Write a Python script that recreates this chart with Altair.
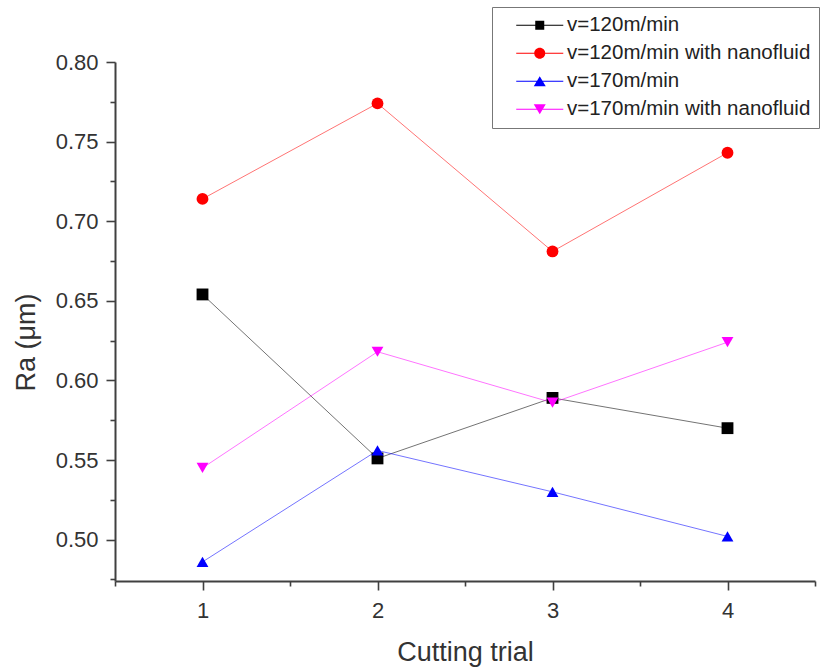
import altair as alt
import pandas as pd

# ---- data ----
trials = [1, 2, 3, 4]
series_names = [
    "v=120m/min",
    "v=120m/min with nanofluid",
    "v=170m/min",
    "v=170m/min with nanofluid",
]
ra_v120 = [0.654, 0.551, 0.589, 0.570]
ra_v120_nano = [0.714, 0.774, 0.681, 0.743]
ra_v170 = [0.486, 0.556, 0.530, 0.502]
ra_v170_nano = [0.545, 0.618, 0.586, 0.624]

x_major = [1, 2, 3, 4]
x_minor = [0.5, 1.5, 2.5, 3.5, 4.5]
y_major = [0.50, 0.55, 0.60, 0.65, 0.70, 0.75, 0.80]
y_minor = [0.475, 0.525, 0.575, 0.625, 0.675, 0.725, 0.775]

# ---- styles ----
colors = ["#000000", "#ff0000", "#0000ff", "#ff00ff"]
shapes = ["square", "circle", "triangle-up", "triangle-down"]
seg = "M-3.92,-0.08H3.92V0.08H-3.92Z"
legend_paths = [
    seg + "M-0.75,-0.75H0.75V0.75H-0.75Z",
    seg + "M-0.92,0A0.92,0.92 0 1,1 0.92,0A0.92,0.92 0 1,1 -0.92,0Z",
    seg + "M0,-0.85L1,0.85H-1Z",
    seg + "M0,0.85L-1,-0.85H1Z",
]

rows = []
for name, vals in zip(series_names, [ra_v120, ra_v120_nano, ra_v170, ra_v170_nano]):
    for t, v in zip(trials, vals):
        rows.append({"trial": t, "Ra": v, "series": name})
df = pd.DataFrame(rows)

FONT = "Liberation Sans"
AX = "#404040"

x_scale = alt.Scale(domain=[0.5, 4.5], nice=False, zero=False)
y_scale = alt.Scale(domain=[0.474, 0.80], nice=False, zero=False)
color_scale = alt.Scale(domain=series_names, range=colors)

main_x_axis = alt.Axis(
    orient="bottom", values=x_major, format="d", grid=False,
    tickSize=9, tickWidth=1.6, tickColor=AX, domainColor=AX, domainWidth=2,
    labelFont=FONT, labelFontSize=22, labelColor="#333", labelPadding=10,
    titleFont=FONT, titleFontSize=27, titleFontWeight="normal", titleColor="#333",
    titleY=58,
)
main_y_axis = alt.Axis(
    orient="left", values=y_major, format=".2f", grid=False,
    tickSize=9, tickWidth=1.6, tickColor=AX, domainColor=AX, domainWidth=2,
    labelFont=FONT, labelFontSize=22, labelColor="#333", labelPadding=8,
    titleFont=FONT, titleFontSize=27, titleFontWeight="normal", titleColor="#333",
    titleX=-75, titleY=280,
)
minor_x_axis = alt.Axis(
    orient="bottom", values=x_minor, labels=False, grid=False, domain=False,
    tickSize=5, tickWidth=1.6, tickColor=AX,
)
minor_y_axis = alt.Axis(
    orient="left", values=y_minor, labels=False, grid=False, domain=False,
    tickSize=5, tickWidth=1.6, tickColor=AX,
)

legend_kw = dict(
    orient="none", legendX=377, legendY=-55, title=None,
    strokeColor="#777", fillColor="white", padding=8, rowPadding=7,
    labelFont=FONT, labelFontSize=20.5, labelColor="#222", labelLimit=1000,
    symbolSize=144, symbolOffset=29.5, labelOffset=17, symbolStrokeWidth=0,
)

lines = alt.Chart(df).mark_line(strokeWidth=1, opacity=0.55).encode(
    x=alt.X("trial:Q", scale=x_scale, axis=main_x_axis, title="Cutting trial"),
    y=alt.Y("Ra:Q", scale=y_scale, axis=main_y_axis, title="Ra (μm)"),
    color=alt.Color("series:N", scale=color_scale, legend=None),
)

points = alt.Chart(df).mark_point(filled=True, size=140, opacity=1).encode(
    x=alt.X("trial:Q", scale=x_scale, axis=None),
    y=alt.Y("Ra:Q", scale=y_scale, axis=None),
    color=alt.Color("series:N", scale=color_scale, legend=None),
    shape=alt.Shape("series:N", scale=alt.Scale(domain=series_names, range=shapes), legend=None),
)

legend_layer = alt.Chart(df).transform_filter("false").mark_point(filled=True, opacity=1).encode(
    x=alt.X("trial:Q", scale=x_scale, axis=minor_x_axis, title=None),
    y=alt.Y("Ra:Q", scale=y_scale, axis=minor_y_axis, title=None),
    color=alt.Color("series:N", scale=alt.Scale(domain=series_names, range=colors),
                    legend=alt.Legend(**legend_kw)),
    shape=alt.Shape("series:N", scale=alt.Scale(domain=series_names, range=legend_paths),
                    legend=alt.Legend(**legend_kw)),
)

chart = alt.layer(lines, points, legend_layer).resolve_scale(
    color="independent", shape="independent"
).resolve_axis(
    x="independent", y="independent"
).properties(
    width=700, height=519,
    autosize=alt.AutoSizeParams(type="none"),
    padding={"left": 115, "top": 62, "right": 12, "bottom": 87},
    background="white",
).configure_view(stroke=None)

chart.save("out.html", embed_options={"renderer": "svg", "actions": False})
